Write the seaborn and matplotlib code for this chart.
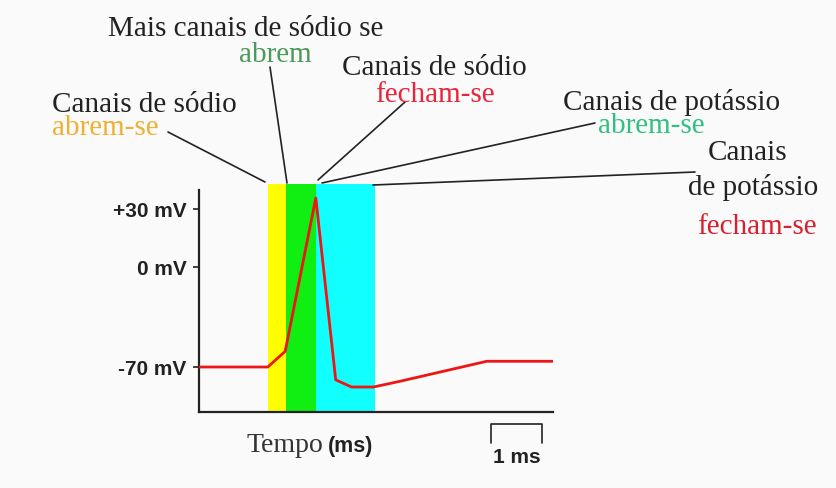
import numpy as np
import pandas as pd
import matplotlib
matplotlib.use("Agg")
import matplotlib.pyplot as plt
from matplotlib.lines import Line2D
import seaborn as sns

# ---- data ----
time_ms = [0.0, 1.35, 1.69, 2.29, 2.68, 2.99, 3.42, 3.94, 5.64, 6.94]
voltage_mv = [-70, -70, -59, 36, -79, -84, -84, -80, -66, -66]

phase_names = ["Na abrem", "mais Na abrem", "K abrem"]
phase_start = [1.35, 1.71, 2.29]
phase_end = [1.71, 2.29, 3.45]
phase_colors = ["#ffff00", "#11ee11", "#11ffff"]

ytick_values = [-70, 0, 30]
ytick_labels = ["-70 mV", "0 mV", "+30 mV"]

scale_bar_ms = 1.0

W, H = 837, 488

sns.set_theme(style="white")
plt.rcParams["font.family"] = ["Liberation Serif", "DejaVu Serif"]

fig = plt.figure(figsize=(W / 100, H / 100), dpi=100, facecolor="#fafafa")
ax = fig.add_axes([199 / W, 1 - 412 / H, (553 - 199) / W, (412 - 184) / H])
ax.set_facecolor("#fafafa")

# schematic (non-linear) voltage axis: positive side stretched
k = 1.342
def fwd(v):
    v = np.asarray(v, dtype=float)
    return np.where(v > 0, v * k, v)
def inv(u):
    u = np.asarray(u, dtype=float)
    return np.where(u > 0, u / k, u)
ax.set_yscale("function", functions=(fwd, inv))

for s, e, c in zip(phase_start, phase_end, phase_colors):
    ax.axvspan(s, e, color=c, lw=0, zorder=0)

df = pd.DataFrame({"t": time_ms, "v": voltage_mv})
sns.lineplot(data=df, x="t", y="v", ax=ax, color="#ee1515", lw=2.0,
             estimator=None, sort=False, zorder=3)

ax.set_xlim(0, 6.94)
ax.set_ylim(-101.5, 43.3)
ax.set_xlabel("")
ax.set_ylabel("")
ax.set_xticks([])
ax.set_yticks(ytick_values)
ax.set_yticklabels(ytick_labels, family=["Liberation Sans", "DejaVu Sans"],
                   fontweight="bold", fontsize=15, color="#222222")
ax.tick_params(axis="y", left=True, length=4, width=1.2, color="#222222", pad=5)
for sp in ["top", "right"]:
    ax.spines[sp].set_visible(False)
for sp in ["left", "bottom"]:
    ax.spines[sp].set_color("#222222")
    ax.spines[sp].set_linewidth(1.6)
ax.spines["left"].set_bounds(-101.5, 40)

# scale bar (1 ms)
sb_x0 = 5.725
ax.plot([sb_x0, sb_x0, sb_x0 + scale_bar_ms, sb_x0 + scale_bar_ms],
        [-123, -110, -110, -123], color="#222222", lw=1.2, clip_on=False)
fig.text(517 / W, 1 - 463 / H, "1 ms", ha="center", va="baseline",
         family=["Liberation Sans", "DejaVu Sans"], fontweight="bold",
         fontsize=15, color="#222222")

fig.text(247 / W, 1 - 452 / H, "Tempo", ha="left", va="baseline",
         fontsize=20, color="#333333")
fig.text(328 / W, 1 - 452 / H, "(ms)", ha="left", va="baseline",
         family=["Liberation Sans", "DejaVu Sans"], fontweight="bold",
         fontsize=15.5, color="#222222")

def ftext(x, y, s, color="#222222", ha="left"):
    fig.text(x / W, 1 - y / H, s, ha=ha, va="baseline", fontsize=21, color=color)

def fline(x1, y1, x2, y2):
    fig.add_artist(Line2D([x1 / W, x2 / W], [1 - y1 / H, 1 - y2 / H],
                          transform=fig.transFigure, color="#222222", lw=1.2))

ftext(108, 36, "Mais canais de sódio se")
ftext(275, 62, "abrem", color="#4a9a5a", ha="center")
ftext(342, 75, "Canais de sódio")
ftext(435, 102, "fecham-se", color="#e8253a", ha="center")
ftext(52, 112, "Canais de sódio")
ftext(52, 135, "abrem-se", color="#f0b030")
ftext(563, 110, "Canais de potássio")
ftext(598, 133, "abrem-se", color="#30c080")
ftext(748, 160, "Canais", ha="center")
ftext(818, 195, "de potássio", ha="right")
ftext(817, 234, "fecham-se", color="#d82030", ha="right")

fline(168, 132, 265, 182)
fline(270, 67, 287, 183)
fline(405, 102, 318, 180)
fline(322, 183, 595, 123)
fline(373, 185, 695, 172)

fig.savefig("out.png", dpi=100, facecolor=fig.get_facecolor())
